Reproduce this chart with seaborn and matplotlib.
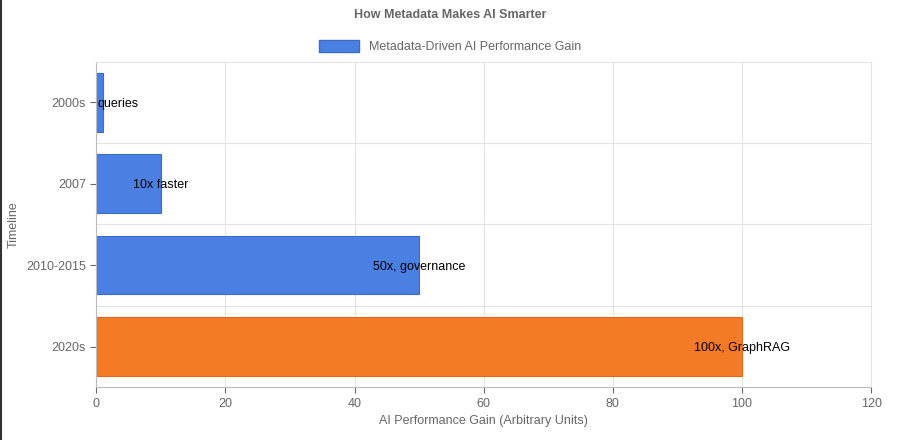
import numpy as np
import pandas as pd
import seaborn as sns
import matplotlib.pyplot as plt
from matplotlib.patches import Patch

plt.rcParams["font.family"] = "Liberation Sans"

periods = ["2000s", "2007", "2010-2015", "2020s"]
gains = [1, 10, 50, 100]
notes = ["queries", "10x faster", "50x, governance", "100x, GraphRAG"]
colors = ["#4a80e2", "#4a80e2", "#4a80e2", "#f57a25"]

df = pd.DataFrame({"period": periods, "gain": gains})

fig = plt.figure(figsize=(9, 4.4), dpi=100)
ax = fig.add_axes([0.107, 0.12, 0.861, 0.74])
sns.barplot(data=df, x="gain", y="period", hue="period", palette=colors,
            saturation=1, legend=False, width=0.72, ax=ax, zorder=2)
for p, c in zip(ax.patches, colors):
    p.set_edgecolor("#3a6cc8" if c != "#f57a25" else "#e06a1c")
    p.set_linewidth(0.8)

for i, (v, t) in enumerate(zip(gains, notes)):
    if v < 5:
        ax.text(0.2, i, t, ha="left", va="center_baseline", fontsize=9, color="black", zorder=3)
    else:
        ax.text(v, i, t, ha="center", va="center_baseline", fontsize=9, color="black", zorder=3)

ax.set_xlim(0, 120)
ax.set_xticks(np.arange(0, 121, 20))
ax.set_ylim(3.5, -0.5)
ax.set_yticks([0.5, 1.5, 2.5], minor=True)
ax.grid(True, axis="x", color="#e3e3e3", lw=0.8, zorder=0)
ax.grid(True, axis="y", which="minor", color="#e3e3e3", lw=0.8, zorder=0)
ax.tick_params(axis="y", which="minor", length=0)
ax.tick_params(colors="#666666", labelsize=9, length=4)
for s in ax.spines.values():
    s.set_color("#e3e3e3")
ax.spines["left"].set_color("#bbbbbb")
ax.spines["bottom"].set_color("#bbbbbb")
ax.set_xlabel("AI Performance Gain (Arbitrary Units)", color="#666666", fontsize=9)
ax.set_ylabel("")
fig.text(0.015, 0.49, "Timeline", rotation=90, ha="center", va="center",
         color="#666666", fontsize=9)

fig.text(0.5, 0.965, "How Metadata Makes AI Smarter", ha="center", va="center",
         fontsize=9, fontweight="bold", color="#666666")
fig.legend(handles=[Patch(facecolor="#4a80e2", edgecolor="#3a6cc8",
                          label="Metadata-Driven AI Performance Gain")],
           loc="center", bbox_to_anchor=(0.5, 0.895), frameon=False,
           fontsize=9, labelcolor="#666666", handlelength=3.2, handleheight=1.1)
fig.add_artist(plt.Line2D([0.001, 0.001], [0, 1], color="#333333", lw=1.5))

fig.savefig("out.png", dpi=100)
